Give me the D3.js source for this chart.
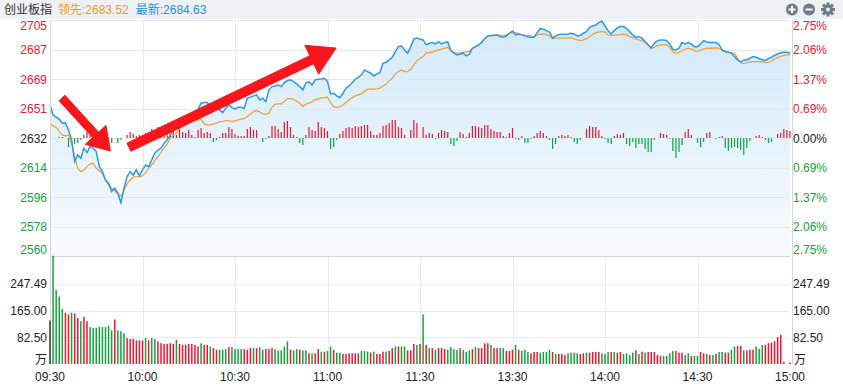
<!DOCTYPE html>
<html>
<head>
<meta charset="utf-8">
<script src="https://cdn.jsdelivr.net/npm/d3@7"></script>
<style>
  body { margin: 0; background: #fff; }
  svg { display: block; font-family: "Liberation Sans", Arial, "Noto Sans CJK SC", sans-serif; }
</style>
</head>
<body>
<div id="chart"></div>
<script>
// ---- data (minute index 0 = 09:30, 120 = 11:30/13:00, 240 = 15:00) ----
const title = '创业板指'
const leadLast = 2683.52
const priceLast = 2684.63
const basePrice = 2632.45
const pctRange = 0.027499
const volMax = 329.99

const timeTicks = [0, 30, 60, 90, 120, 150, 180, 210, 240]
const timeLabels = ['09:30', '10:00', '10:30', '11:00', '11:30', '13:30', '14:00', '14:30', '15:00']

// latest price (blue)
const price = [
  2652.7, 2646.6, 2645.2, 2644.0, 2641.5, 2641.7, 2637.4, 2631.3, 2618.0, 2622.1,
  2620.0, 2626.2, 2623.5, 2627.2, 2626.2, 2624.1, 2614.9, 2611.8, 2606.7, 2604.7,
  2599.6, 2601.6, 2598.6, 2592.8, 2601.6, 2608.8, 2611.8, 2609.8, 2612.9, 2609.2,
  2612.9, 2615.9, 2614.9, 2619.0, 2623.1, 2625.1, 2626.2, 2629.2, 2631.3, 2634.3,
  2637.4, 2639.9, 2643.5, 2643.1, 2645.2, 2646.6, 2647.0, 2647.7, 2650.1, 2653.8,
  2654.2, 2654.2, 2652.1, 2651.3, 2652.1, 2649.7, 2648.0, 2650.7, 2652.7, 2651.3,
  2650.1, 2651.3, 2651.3, 2650.7, 2656.9, 2657.5, 2658.3, 2658.9, 2655.8, 2656.9,
  2654.8, 2662.0, 2664.0, 2664.4, 2665.0, 2664.0, 2666.4, 2667.7, 2668.1, 2667.0,
  2665.6, 2664.0, 2662.0, 2666.1, 2667.0, 2665.0, 2668.1, 2668.5, 2668.7, 2669.1,
  2667.0, 2659.5, 2659.9, 2658.3, 2657.2, 2659.9, 2663.0, 2664.4, 2666.4, 2668.5,
  2669.7, 2671.2, 2674.2, 2673.2, 2672.2, 2670.5, 2671.8, 2672.6, 2678.3, 2678.9,
  2680.4, 2682.0, 2685.5, 2688.5, 2688.9, 2686.5, 2684.5, 2688.5, 2693.1, 2693.7,
  2693.1, 2692.6, 2689.6, 2690.6, 2691.0, 2690.2, 2691.6, 2690.2, 2691.0, 2691.4,
  2686.1, 2684.5, 2683.4, 2684.0, 2684.5, 2682.8, 2683.9, 2687.5, 2688.5, 2689.6,
  2691.0, 2693.4, 2695.1, 2695.3, 2695.5, 2695.7, 2694.6, 2694.3, 2695.1, 2696.7,
  2698.1, 2695.7, 2696.3, 2695.7, 2695.1, 2694.6, 2694.3, 2694.3, 2697.1, 2699.6,
  2699.2, 2698.3, 2697.5, 2693.7, 2695.1, 2695.9, 2696.1, 2696.1, 2696.3, 2696.7,
  2696.3, 2695.1, 2695.5, 2696.7, 2697.7, 2700.4, 2701.2, 2701.8, 2703.2, 2704.1,
  2701.2, 2698.3, 2696.3, 2698.3, 2700.0, 2700.8, 2700.8, 2699.6, 2697.7, 2695.7,
  2694.3, 2694.6, 2693.7, 2691.6, 2689.7, 2687.7, 2690.6, 2692.2, 2692.6, 2692.6,
  2692.2, 2690.2, 2686.9, 2686.5, 2687.5, 2691.0, 2690.2, 2691.0, 2690.2, 2688.5,
  2688.5, 2690.2, 2692.2, 2691.4, 2691.0, 2691.0, 2691.0, 2689.7, 2686.5, 2685.7,
  2685.1, 2684.5, 2682.4, 2680.4, 2679.1, 2680.2, 2680.5, 2681.4, 2682.4, 2682.0,
  2681.2, 2680.4, 2679.9, 2681.2, 2682.0, 2683.2, 2684.0, 2684.8, 2685.1, 2685.1,
  2684.63
]

// leading index (orange)
const lead = [
  2641.1, 2639.9, 2639.1, 2636.4, 2634.3, 2633.7, 2634.3, 2629.2, 2621.0, 2613.9,
  2611.8, 2612.9, 2614.9, 2616.5, 2617.0, 2613.9, 2612.4, 2610.8, 2606.7, 2603.7,
  2601.6, 2600.2, 2598.1, 2596.9, 2600.2, 2604.3, 2606.7, 2608.4, 2608.8, 2608.8,
  2609.2, 2611.2, 2613.9, 2615.9, 2618.6, 2621.0, 2623.5, 2626.2, 2628.8, 2632.3,
  2634.3, 2635.4, 2638.5, 2639.9, 2641.1, 2641.5, 2643.5, 2644.0, 2643.5, 2644.0,
  2641.1, 2640.5, 2640.5, 2641.1, 2641.5, 2642.5, 2642.5, 2643.1, 2643.1, 2642.5,
  2642.9, 2643.5, 2644.0, 2644.3, 2645.6, 2647.2, 2648.6, 2649.3, 2648.5, 2647.2,
  2647.0, 2647.7, 2651.3, 2653.2, 2653.4, 2653.4, 2654.8, 2656.6, 2656.6, 2656.2,
  2655.0, 2653.8, 2651.7, 2653.2, 2653.8, 2654.6, 2655.8, 2656.4, 2657.0, 2657.2,
  2657.5, 2654.2, 2651.7, 2651.3, 2651.5, 2652.7, 2654.2, 2655.8, 2657.2, 2658.3,
  2658.9, 2659.5, 2660.9, 2662.4, 2662.4, 2662.4, 2662.6, 2663.0, 2664.4, 2665.6,
  2667.5, 2669.1, 2671.8, 2673.2, 2674.2, 2673.2, 2673.2, 2674.6, 2677.3, 2679.9,
  2681.2, 2682.4, 2684.5, 2684.8, 2685.1, 2685.9, 2686.5, 2686.9, 2687.5, 2688.1,
  2686.1, 2684.8, 2684.5, 2684.6, 2685.1, 2685.1, 2685.7, 2687.3, 2688.5, 2689.4,
  2691.4, 2693.4, 2695.1, 2695.3, 2695.3, 2695.5, 2695.7, 2695.1, 2695.7, 2696.7,
  2697.1, 2697.1, 2696.5, 2695.9, 2695.5, 2695.3, 2695.1, 2694.6, 2695.5, 2696.1,
  2696.3, 2695.9, 2695.1, 2693.4, 2693.7, 2693.7, 2693.7, 2693.7, 2693.9, 2693.9,
  2693.2, 2692.6, 2692.2, 2692.6, 2693.4, 2694.6, 2695.9, 2696.9, 2697.5, 2697.7,
  2697.4, 2695.7, 2695.3, 2695.5, 2695.7, 2695.9, 2696.1, 2695.5, 2694.6, 2693.9,
  2693.2, 2692.6, 2692.0, 2691.2, 2689.4, 2687.3, 2688.1, 2689.1, 2689.6, 2689.7,
  2689.7, 2688.1, 2685.3, 2684.5, 2684.8, 2686.1, 2686.9, 2687.5, 2687.1, 2686.1,
  2685.5, 2686.3, 2686.9, 2687.5, 2687.5, 2687.5, 2687.7, 2687.5, 2686.1, 2685.3,
  2685.1, 2684.6, 2684.5, 2681.4, 2678.7, 2678.1, 2678.7, 2679.1, 2679.3, 2679.3,
  2679.3, 2679.1, 2678.7, 2678.9, 2679.7, 2680.8, 2681.8, 2682.6, 2683.2, 2683.4,
  2683.52
]

// red / green strength bars around the base line
const strength = [
  0, 0, 0, 1, 1, 0, -9, -5, -6, -5,
  -2, 3, 6, 3, 1, 0, 0, 0, -5, -7,
  -5, 0, -5, -2, 0, 3, 6, 4, 2, 3,
  3, 5, 6, 9, 5, 11, 6, 9, 5, 5,
  9, 3, 11, 6, 5, 8, 3, 1, 8, 10,
  5, 6, 5, -4, -2, 1, 5, 5, 11, 9,
  4, 2, 2, 2, 9, 11, 8, 8, 0, -4,
  -1, 2, 12, 12, 9, 6, 16, 17, 11, 3,
  1, -5, -7, 3, 11, 8, 7, 16, 11, 10,
  7, -11, -9, -2, 4, 7, 10, 11, 10, 12,
  11, 12, 13, 13, 7, 3, 3, 5, 12, 13,
  15, 18, 18, 11, 10, 3, 0, 8, 18, 15,
  0, 11, 3, 5, 4, -1, 5, 8, 7, 6,
  -6, -8, -3, 6, 4, 1, 5, 12, 12, 11,
  10, 13, 13, 9, 7, 6, 6, 2, 1, 5,
  10, -1, -2, 2, -5, -5, -1, 2, 5, 7,
  5, 2, -2, -11, -6, 2, 3, 2, 3, 1,
  -4, -6, -2, 0, 9, 12, 11, 11, 8, 2,
  -1, -5, -6, 2, 4, 3, 5, -6, -8, -4,
  -10, -6, -6, -11, -14, -14, -2, 0, 5, 4,
  3, -1, -13, -20, -14, -7, 6, 9, 3, 0,
  -5, -9, -4, 5, 6, 0, -1, 1, 2, -10,
  -13, -10, -9, -10, -12, -17, -10, -3, 0, 2,
  3, 1, -2, -5, -4, 0, 4, 5, 9, 8,
  7
]

// volume (万) and its direction: 1 up (red), -1 down (green), 0 auction
const volume = [
  134, 334, 228, 208, 170, 158, 153, 158, 156, 142,
  132, 145, 132, 114, 111, 111, 114, 114, 114, 118,
  104, 137, 104, 101, 95, 80, 77, 77, 73, 73,
  72, 80, 73, 80, 77, 70, 64, 62, 62, 64,
  62, 75, 62, 59, 59, 62, 62, 59, 54, 64,
  59, 59, 54, 49, 44, 44, 44, 46, 52, 52,
  46, 46, 46, 46, 44, 49, 49, 49, 52, 44,
  46, 46, 49, 46, 42, 42, 54, 70, 44, 42,
  46, 44, 42, 42, 33, 33, 33, 46, 38, 38,
  40, 54, 44, 35, 35, 31, 31, 33, 33, 33,
  33, 40, 40, 38, 35, 38, 31, 31, 38, 38,
  40, 49, 54, 54, 54, 54, 42, 42, 62, 59,
  62, 153, 59, 49, 49, 44, 49, 49, 46, 44,
  52, 46, 44, 49, 44, 37, 42, 46, 52, 49,
  49, 64, 64, 59, 49, 49, 49, 49, 40, 40,
  44, 59, 44, 40, 44, 37, 33, 37, 37, 35,
  37, 37, 44, 37, 31, 31, 31, 28, 33, 35,
  35, 33, 31, 33, 35, 35, 37, 37, 37, 33,
  31, 37, 37, 37, 35, 37, 31, 33, 28, 35,
  42, 31, 38, 35, 37, 37, 37, 28, 25, 25,
  25, 33, 40, 40, 35, 35, 28, 33, 25, 25,
  25, 37, 33, 31, 28, 28, 31, 37, 37, 35,
  35, 44, 54, 56, 56, 42, 42, 44, 44, 54,
  47, 59, 59, 64, 66, 70, 83, 90, 7, 0,
  4
]
const volumeDir = [
  0, -1, -1, -1, -1, 1, 1, -1, 1, 1,
  -1, 1, 1, -1, -1, -1, -1, -1, -1, -1,
  -1, 1, -1, -1, -1, 1, 1, 1, 1, 1,
  1, -1, 1, -1, -1, 1, 1, 1, 1, 1,
  1, -1, 1, 1, 1, 1, 1, 1, 1, -1,
  1, 1, -1, 1, 1, -1, -1, -1, 1, -1,
  -1, -1, -1, 1, 1, 1, -1, 1, -1, -1,
  1, 1, 1, -1, -1, -1, -1, -1, 1, -1,
  -1, 1, -1, -1, 1, -1, 1, 1, -1, 1,
  -1, -1, 1, -1, -1, 1, 1, 1, 1, 1,
  1, -1, -1, -1, 1, -1, 1, 1, 1, -1,
  1, 1, -1, 1, -1, -1, 1, 1, 1, -1,
  1, -1, 1, -1, 1, -1, 1, 1, 1, -1,
  -1, -1, -1, 1, -1, -1, -1, 1, -1, 1,
  1, 1, 1, -1, 1, 1, -1, -1, 1, 1,
  1, -1, 1, -1, -1, -1, 1, 1, 1, -1,
  -1, -1, -1, 1, -1, 1, 1, 1, -1, -1,
  -1, -1, 1, 1, -1, 1, 1, 1, 1, -1,
  -1, -1, 1, -1, 1, 1, -1, -1, -1, -1,
  1, -1, 1, -1, 1, 1, 1, 1, 1, -1,
  -1, -1, -1, 1, 1, 1, -1, -1, 1, -1,
  -1, 1, 1, -1, 1, -1, 1, -1, -1, 1,
  1, -1, -1, 1, 1, -1, 1, 1, 1, -1,
  -1, -1, 1, 1, 1, 1, 1, 1, 1, 0,
  0
]

// annotation arrows, in (minute, price)
const arrows = [
  { from: [3.9, 2657.0], to: [19.6, 2624.4], head: 22, headW: 28, shaft: 8 },
  { from: [25.6, 2626.8], to: [92.8, 2687.6], head: 27, headW: 32, shaft: 9 }
]

// ---- layout ----
const width = 843
const height = 385
const left = 50
const right = 790
const priceTop = 20
const priceBottom = 256
const volTop = 257
const volBottom = 364

const red = '#ef1530'
const green = '#10a43c'
const gridColor = '#e9ebee'

const svg = d3.select('#chart')
  .append('svg')
  .attr('width', width)
  .attr('height', height)

const x = d3.scaleLinear().domain([0, 240]).range([left, right])
const y = d3.scaleLinear()
  .domain([basePrice * (1 - pctRange), basePrice * (1 + pctRange)])
  .range([priceBottom, priceTop])
const yVol = d3.scaleLinear().domain([0, volMax]).range([volBottom, volTop])
const yStrength = d3.scaleLinear().domain([-20, 20]).range([y(basePrice) + 20, y(basePrice) - 20])

// header strip
svg.append('rect')
  .attr('x', 0).attr('y', 0).attr('width', width).attr('height', 19)
  .attr('fill', '#eef1f5')

const head = svg.append('text').attr('x', 4).attr('y', 14).attr('font-size', 12)
head.append('tspan').attr('fill', '#333').text(title)
head.append('tspan').attr('dx', 6).attr('fill', '#f39a1e').text('领先:' + leadLast.toFixed(2))
head.append('tspan').attr('dx', 7).attr('fill', '#1d8fe8').text('最新:' + priceLast.toFixed(2))

// header icons
const icons = svg.append('g')
const iconColor = '#6f7b88'
icons.append('circle').attr('cx', 792).attr('cy', 9.5).attr('r', 6).attr('fill', iconColor)
icons.append('path').attr('d', 'M788.5,9.5h7M792,6v7').attr('stroke', '#fff').attr('stroke-width', 2)
icons.append('circle').attr('cx', 809).attr('cy', 9.5).attr('r', 6).attr('fill', iconColor)
icons.append('path').attr('d', 'M805.5,9.5h7').attr('stroke', '#fff').attr('stroke-width', 2)
const gear = icons.append('g').attr('transform', 'translate(828,9.5)')
for (let i = 0; i < 8; i++) {
  gear.append('rect')
    .attr('x', -1.5).attr('y', -7).attr('width', 3).attr('height', 4)
    .attr('fill', iconColor)
    .attr('transform', 'rotate(' + i * 45 + ')')
}
gear.append('circle').attr('r', 5).attr('fill', iconColor)
gear.append('circle').attr('r', 2).attr('fill', '#eef1f5')

// area gradient
const defs = svg.append('defs')
const grad = defs.append('linearGradient')
  .attr('id', 'area-fill')
  .attr('gradientUnits', 'userSpaceOnUse')
  .attr('x1', 0).attr('x2', 0)
  .attr('y1', priceTop).attr('y2', priceBottom)
grad.append('stop').attr('offset', 0).attr('stop-color', '#d2e9fa')
grad.append('stop').attr('offset', 1).attr('stop-color', '#f8fbfe')

// grid
const priceTicks = d3.range(-4, 5).map(k => basePrice * (1 + k * pctRange / 4))
const volTicks = [1, 2, 3].map(k => volMax * k / 4)

const grid = svg.append('g')
grid.selectAll('.hgrid')
  .data(priceTicks)
  .enter()
  .append('line')
  .attr('x1', left).attr('x2', right)
  .attr('y1', d => Math.round(y(d)) + 0.5).attr('y2', d => Math.round(y(d)) + 0.5)
  .attr('stroke', gridColor)
grid.selectAll('.vgrid')
  .data(volTicks)
  .enter()
  .append('line')
  .attr('x1', left).attr('x2', right)
  .attr('y1', d => Math.round(yVol(d)) + 0.5).attr('y2', d => Math.round(yVol(d)) + 0.5)
  .attr('stroke', gridColor)
grid.selectAll('.tgrid')
  .data(timeTicks.slice(1, -1))
  .enter()
  .append('line')
  .attr('x1', d => Math.round(x(d)) + 0.5).attr('x2', d => Math.round(x(d)) + 0.5)
  .attr('y1', priceTop).attr('y2', volBottom)
  .attr('stroke', gridColor)

// area under the latest price
const area = d3.area()
  .x((d, i) => x(i))
  .y0(priceBottom)
  .y1(d => y(d))
svg.append('path')
  .datum(price)
  .attr('d', area)
  .attr('fill', 'url(#area-fill)')

// redraw the horizontal grid faintly over the fill
svg.append('g').selectAll('line')
  .data(priceTicks.slice(1, -1))
  .enter()
  .append('line')
  .attr('x1', left).attr('x2', right)
  .attr('y1', d => Math.round(y(d)) + 0.5).attr('y2', d => Math.round(y(d)) + 0.5)
  .attr('stroke', '#dfe6ee').attr('stroke-opacity', 0.7)

// strength bars
svg.append('g')
  .selectAll('rect')
  .data(strength)
  .enter()
  .append('rect')
  .attr('x', (d, i) => x(i) - 0.6)
  .attr('width', 1.2)
  .attr('y', d => Math.min(yStrength(d), yStrength(0)))
  .attr('height', d => Math.abs(yStrength(d) - yStrength(0)))
  .attr('fill', d => (d >= 0 ? red : green))

// lines
const line = d3.line().x((d, i) => x(i)).y(d => y(d))
svg.append('path')
  .datum(lead)
  .attr('d', line)
  .attr('fill', 'none')
  .attr('stroke', '#eea23d')
  .attr('stroke-width', 1.3)
svg.append('path')
  .datum(price)
  .attr('d', line)
  .attr('fill', 'none')
  .attr('stroke', '#2c98f0')
  .attr('stroke-width', 1.5)

// panel borders
svg.append('line')
  .attr('x1', left).attr('x2', right)
  .attr('y1', priceBottom + 0.5).attr('y2', priceBottom + 0.5)
  .attr('stroke', '#d3d6da')
svg.append('line')
  .attr('x1', left + 0.5).attr('x2', left + 0.5)
  .attr('y1', priceTop).attr('y2', volBottom)
  .attr('stroke', '#d3d6da')
svg.append('line')
  .attr('x1', right + 2.5).attr('x2', right + 2.5)
  .attr('y1', priceTop).attr('y2', volBottom)
  .attr('stroke', '#d3d6da')

// volume bars
svg.append('g')
  .selectAll('rect')
  .data(volume)
  .enter()
  .append('rect')
  .attr('x', (d, i) => x(i) - 0.75)
  .attr('width', 1.5)
  .attr('y', d => yVol(d))
  .attr('height', d => yVol(0) - yVol(d))
  .attr('fill', (d, i) => (volumeDir[i] > 0 ? red : volumeDir[i] < 0 ? green : '#333'))

// price axis labels
const pctOf = v => Math.abs((v / basePrice - 1) * 100)
const labelColor = v => (v > basePrice + 0.01 ? red : v < basePrice - 0.01 ? green : '#222')
const labelY = (v, i) => {
  if (i === priceTicks.length - 1) return y(v) + 10
  if (i === 0) return y(v) - 2
  return y(v) + 4.5
}
svg.append('g')
  .selectAll('text')
  .data(priceTicks)
  .enter()
  .append('text')
  .attr('x', left - 3)
  .attr('y', labelY)
  .attr('text-anchor', 'end')
  .attr('font-size', 12)
  .attr('fill', labelColor)
  .text(d => Math.round(d))
svg.append('g')
  .selectAll('text')
  .data(priceTicks)
  .enter()
  .append('text')
  .attr('x', right + 3)
  .attr('y', labelY)
  .attr('font-size', 12)
  .attr('fill', labelColor)
  .text(d => pctOf(d).toFixed(2) + '%')

// volume axis labels
const volLabels = svg.append('g').attr('font-size', 12).attr('fill', '#222')
volTicks.forEach(v => {
  volLabels.append('text').attr('x', left - 3).attr('y', yVol(v) + 4.5)
    .attr('text-anchor', 'end').text(v.toFixed(2))
  volLabels.append('text').attr('x', right + 3).attr('y', yVol(v) + 4.5).text(v.toFixed(2))
})
volLabels.append('text').attr('x', left - 3).attr('y', volBottom)
  .attr('text-anchor', 'end').text('万')
volLabels.append('text').attr('x', right + 4).attr('y', volBottom).text('万')

// time axis
svg.append('g')
  .selectAll('text')
  .data(timeTicks)
  .enter()
  .append('text')
  .attr('x', d => x(d))
  .attr('y', 381)
  .attr('text-anchor', 'middle')
  .attr('font-size', 12)
  .attr('fill', '#222')
  .text((d, i) => timeLabels[i])

// red annotation arrows
function arrowPoints(a) {
  const x1 = x(a.from[0]), y1 = y(a.from[1])
  const x2 = x(a.to[0]), y2 = y(a.to[1])
  const len = Math.hypot(x2 - x1, y2 - y1)
  const ux = (x2 - x1) / len, uy = (y2 - y1) / len
  const nx = -uy, ny = ux
  const bx = x2 - ux * a.head, by = y2 - uy * a.head
  const s = a.shaft / 2, h = a.headW / 2
  return [
    [x1 + nx * s, y1 + ny * s],
    [bx + nx * s, by + ny * s],
    [bx + nx * h, by + ny * h],
    [x2, y2],
    [bx - nx * h, by - ny * h],
    [bx - nx * s, by - ny * s],
    [x1 - nx * s, y1 - ny * s]
  ]
}
svg.append('g')
  .selectAll('polygon')
  .data(arrows)
  .enter()
  .append('polygon')
  .attr('points', d => arrowPoints(d).map(p => p.join(',')).join(' '))
  .attr('fill', '#f7161b')
  .attr('stroke', '#f7161b')
  .attr('stroke-width', 1)
  .attr('stroke-linejoin', 'round')
</script>
</body>
</html>
